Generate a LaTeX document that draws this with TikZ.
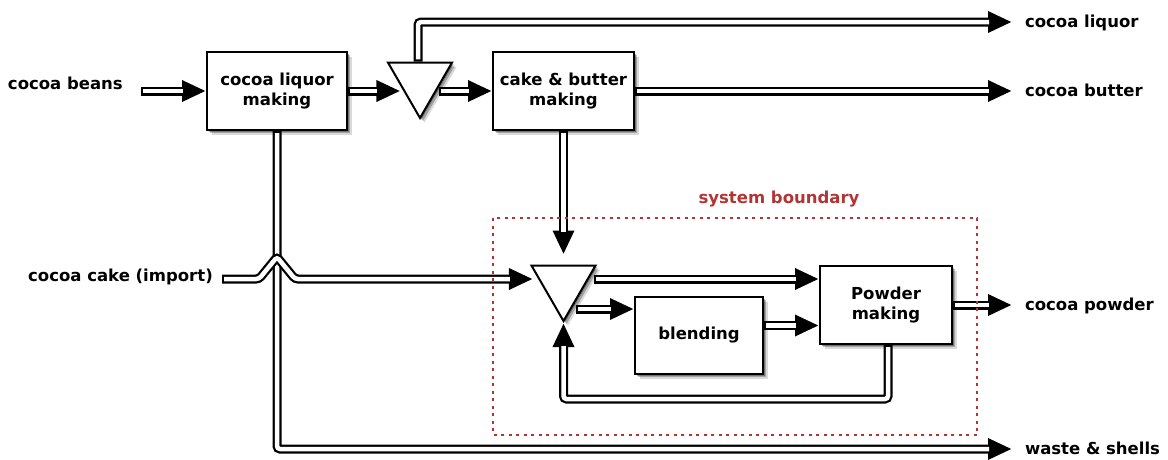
\documentclass[tikz,border=0pt]{standalone}
\usepackage{fontspec}
\setmainfont{DejaVu Sans}
\usetikzlibrary{calc}
\usetikzlibrary{arrows.meta}
\usetikzlibrary{shapes.geometric}
\usetikzlibrary{shadows}

\definecolor{boundred}{RGB}{178,52,52}

\tikzset{
  soft shadow/.style={
    drop shadow={shadow xshift=4.5pt, shadow yshift=-4.5pt, opacity=0.15, fill=black},
    drop shadow={shadow xshift=3pt, shadow yshift=-3pt, opacity=0.25, fill=black},
    drop shadow={shadow xshift=1.5pt, shadow yshift=-1.5pt, opacity=0.3, fill=black}},
  unit/.style={draw, line width=2pt, fill=white, inner sep=0pt, align=center, soft shadow},
  splitter/.style={regular polygon, regular polygon sides=3, shape border rotate=180,
    draw, line width=2pt, fill=white, inner sep=0pt, minimum size=74pt, soft shadow},
  flow/.style={line width=9pt, rounded corners=3pt, -{Triangle[length=24pt,width=20pt]},
    postaction={draw=white, line width=4.5pt, -, shorten <=2.2pt, shorten >=23pt}},
  outlabel/.style={anchor=west, inner xsep=13pt, inner ysep=0pt, outer sep=0pt,
    text height=11pt, text depth=0pt},
  inlabel/.style={anchor=base east, inner sep=0pt},
  boundary/.style={draw=boundred, line width=2pt, dash pattern=on 3pt off 4.5pt}
}

\begin{document}
\begin{tikzpicture}[x=1pt, y=-1pt, font=\bfseries\fontsize{16.5}{20}\selectfont]
  % Fix the frame of the picture
  \useasboundingbox (0,0) rectangle (1168,459);

  % Place the process units
  \node[unit, minimum width=140pt, minimum height=78pt] (liq) at (277,91) {cocoa liquor\\making};
  \node[splitter] (t1) at (420,81) {};
  \node[unit, minimum width=141pt, minimum height=78pt] (cbm) at (563.5,91) {cake \& butter\\making};
  \node[splitter] (t2) at (563.5,284) {};
  \node[unit, minimum width=128pt, minimum height=77pt] (bln) at (699,335.5) {blending};
  \node[unit, minimum width=132pt, minimum height=78pt] (pow) at (886,305) {Powder\\making};

  % Place the stream names
  \node[inlabel] (bns) at (123,89) {cocoa beans};
  \node[inlabel] (cci) at (213,281) {cocoa cake (import)};
  \node[outlabel] (lqr) at (1012,22) {cocoa liquor};
  \node[outlabel] (btr) at (1012,91) {cocoa butter};
  \node[outlabel] (pwd) at (1012,305) {cocoa powder};
  \node[outlabel] (wst) at (1012,449) {waste \& shells};

  % Free ends of the incoming streams
  \coordinate (beansin) at (141,91);
  \coordinate (cakein) at (222,279);
  \coordinate (loop) at (0,399);

  % Draw the main line
  \draw[flow] (beansin) -- (liq.west);
  \draw[flow] (liq.east) -- ($(liq.east -| t1.west)+(3pt,0)$);
  \draw[flow] ([xshift=-2pt]t1.north) |- (lqr.west);
  \draw[flow] ($(t1.east |- cbm.west)+(-4pt,0)$) -- (cbm.west);
  \draw[flow] (cbm.east) -- (btr.west);
  \draw[flow] (liq.south) |- (wst.west);

  % Draw the powder line (the cake stream jumps over the waste line)
  \draw[flow] (cbm.south) -- ([yshift=10pt]t2.north);
  \draw[flow] (cakein) -- ($(cakein -| liq.south)+(-18pt,0)$) -- ++(18pt,22pt) -- ++(18pt,-22pt)
    -- ($(cakein -| t2.west)+(-8pt,0)$);
  \draw[flow] ($(t2.east)+(8pt,5pt)$) -- ($(t2.east -| pow.west)+(0,5pt)$);
  \draw[flow] ($(t2.center)+(12pt,-25pt)$) -- ($(t2.center -| bln.west)+(0,-25pt)$);
  \draw[flow] ([yshift=10pt]bln.east) -- ([yshift=10pt]bln.east -| pow.west);
  \draw[flow] (pow.east) -- (pwd.west);
  \draw[flow] ([xshift=2pt]pow.south) |- (t2.south |- loop) -- (t2.south);

  % Draw the system boundary
  \draw[boundary] (493,218) rectangle (977,435);
  \node[text=boundred] (sysb) at (779,199) {system boundary};
\end{tikzpicture}
\end{document}
